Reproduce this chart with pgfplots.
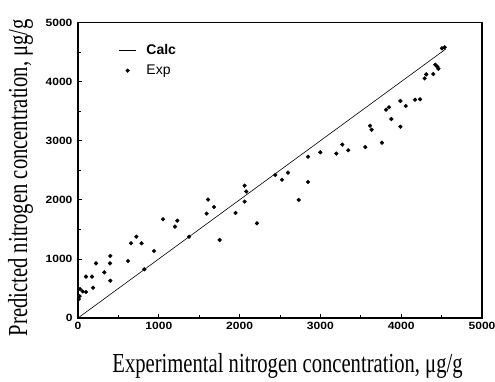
\documentclass[border=0pt]{standalone}
\usepackage{fontspec}
\setmainfont{Liberation Serif}
\newfontfamily\labf[FakeStretch=0.75]{Liberation Serif}
\newfontfamily\sansf{Liberation Sans}
\newfontfamily\tickf[FakeStretch=1.15]{Liberation Sans}
\usepackage{pgfplots}
\pgfplotsset{compat=1.18}
\begin{document}
\begin{tikzpicture}[x=1pt,y=1pt]
\path[use as bounding box] (-78,-63) rectangle (417,318);
\begin{axis}[
  at={(0,0)}, anchor=origin,
  scale only axis,
  width=404pt, height=295.5pt,
  xmin=0, xmax=5000, ymin=0, ymax=5000,
  xtick={0,1000,...,5000}, ytick={0,1000,...,5000},
  minor tick num=1,
  tick align=inside,
  xtick pos=bottom, ytick pos=left,
  major tick length=4pt, minor tick length=3pt,
  axis line style={line width=1.2pt},
  every tick/.style={black, line width=0.8pt},
  /pgf/number format/assume math mode=true,
  /pgf/number format/1000 sep={},
  tick label style={font=\tickf\bfseries\fontsize{10.5}{12}\selectfont},
  xticklabel style={yshift=-1pt},
  yticklabel style={xshift=-2pt},
  xlabel={Experimental nitrogen concentration, μg/g},
  ylabel={Predicted nitrogen concentration, μg/g},
  label style={font=\labf\fontsize{27.5}{30}\selectfont},
  xlabel style={anchor=base, at={(axis description cs:0.5186,-0.183)}},
  ylabel style={anchor=base, at={(axis description cs:-0.1262,0.475)}},
  legend style={at={(0.093,0.94)}, anchor=north west, draw=none, fill=none,
    font=\sansf\fontsize{14}{16}\selectfont, row sep=5pt},
  legend cell align=left,
]
\addplot[black, line width=0.6pt] coordinates {(0,0) (4550,4550)};
\addlegendentry{\hspace*{8pt}\textbf{Calc}}
\addplot[only marks, mark=*, mark size=1.9pt, black] coordinates {
(10,320) (20,370) (25,490) (58,450) (99,440) (99,700) (173,700) (186,513)
(223,925) (326,773) (396,925) (400,1050) (400,631) (619,964) (821,824)
(941,1134) (656,1264) (722,1376) (787,1264) (1052,1670) (1200,1546)
(1229,1647) (1374,1376) (1592,1767) (1609,2004) (1683,1878) (1753,1320)
(1950,1777) (2062,2239) (2083,2140) (2062,1970) (2215,1602) (2442,2420)
(2525,2340) (2599,2459) (2731,1997) (2847,2301) (2847,2729) (2999,2804)
(3197,2782) (3271,2934) (3345,2838) (3556,2893) (3614,3254) (3634,3186)
(3762,2967) (3812,3525) (3849,3565) (3878,3367) (3990,3237) (3990,3672)
(4056,3587) (4171,3694) (4233,3700) (4290,4054) (4310,4122) (4397,4128)
(4422,4286) (4447,4252) (4460,4218) (4505,4563) (4538,4580)
};
\addlegendentry{\hspace*{8pt}Exp}
\end{axis}
\end{tikzpicture}
\end{document}
